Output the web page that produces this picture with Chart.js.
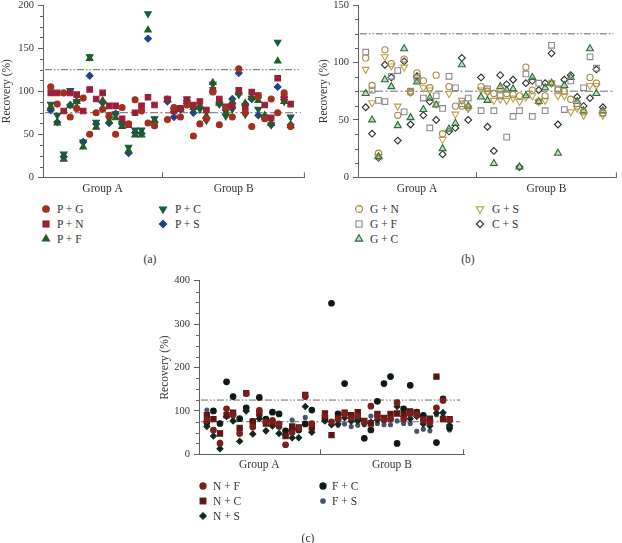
<!DOCTYPE html>
<html>
<head>
<meta charset="utf-8">
<script src="https://cdn.jsdelivr.net/npm/chart.js@4.4.1/dist/chart.umd.min.js"></script>
<style>
  body { margin: 0; background: #fff; width: 622px; height: 543px; position: relative; overflow: hidden;
         font-family: "Liberation Serif", serif; color: #333; }
  canvas { position: absolute; }
  .leg { position: absolute; font-size: 11.5px; line-height: 14px; white-space: nowrap; }
  .leg svg { position: absolute; top: 1px; }
  .cap { position: absolute; font-size: 11.5px; line-height: 14px; transform: translateX(-50%); }
</style>
</head>
<body>
<canvas id="chartA" width="310" height="200" style="left:0;top:0"></canvas>
<canvas id="chartB" width="312" height="200" style="left:310px;top:0"></canvas>
<canvas id="chartC" width="320" height="210" style="left:150px;top:270px"></canvas>
<div id="legends"></div>
<script>
// ---- shared axis data ----
const groupLabels = ['Group A', 'Group B'];
const xMin = -1.2, xMax = 39.2, xDivider = 17.2;
const groupCenters = [(xMin + xDivider) / 2, (xDivider + xMax) / 2];
const refLines = [75, 125];

// ---- (a) P + ... : 17 samples of group A, then 20 of group B ----
const pG = [105, 85, 98, 70, 80, 92, 50, 75, 79, 72, 50, 81, 62, 90, 77, 63, 60,
            67, 81, 70, 84, 48, 62, 68, 99, 61, 81, 70, 126, 75, 59, 94, 68, 91, 75, 98, 59];
const pN = [98, 98, 77, 98, 96, 77, 102, 91, 98, 83, 83, 68, 61, 75, 83, 93, 84,
            91, 77, 80, 90, 84, 88, 78, 101, 91, 82, 83, 101, 81, 99, 95, 84, 69, 115, 93, 85];
const pF = [82, 63, 21, 83, 88, 35, 138, 58, 89, 65, 69, 59, 31, 49, 49, 171, 66,
            90, 78, 79, 88, 81, 83, 71, 110, 86, 75, 88, 98, 86, 93, 89, 72, 63, 135, 88, 60];
const pC = [85, 72, 27, 101, 88, 41, 140, 64, 86, 68, 74, 62, 35, 55, 55, 190, 68,
            90, 78, 79, 91, 79, 79, 66, 108, 85, 71, 79, 96, 73, 92, 79, 70, 61, 157, 88, 70];
const pS = [78, 64, 24, 84, 88, 41, 118, 62, 87, 63, 74, 62, 28, 52, 51, 161, 64,
            88, 70, 79, 89, 75, 81, 69, 100, 85, 78, 91, 121, 85, 91, 72, 69, 61, 105, 93, 61];

// ---- (b) G + ... ----
const gN = [104, 80, 21, 111, 99, 54, 103, 74, 91, 84, 78, 89, 38, 79, 62, 62, 61,
            79, 75, 73, 77, 73, 72, 71, 96, 76, 66, 71, 82, 76, 75, 68, 62, 57, 87, 82, 56];
const gF = [109, 76, 67, 66, 88, 93, 57, 75, 87, 69, 43, 71, 60, 88, 78, 64, 69,
            58, 77, 58, 71, 35, 53, 58, 90, 53, 82, 58, 115, 77, 59, 84, 64, 78, 105, 95, 56];
const gC = [73, 50, 18, 85, 79, 45, 112, 52, 83, 59, 69, 63, 25, 42, 47, 98, 62,
            70, 67, 12, 79, 76, 77, 9, 71, 87, 66, 78, 82, 21, 80, 87, 66, 58, 112, 73, 58];
const gS = [94, 65, 18, 105, 97, 62, 96, 74, 85, 78, 76, 64, 33, 73, 55, 67, 60,
            76, 74, 67, 68, 67, 69, 66, 70, 71, 66, 67, 82, 71, 71, 57, 60, 54, 80, 80, 54];
const cS = [61, 38, 17, 98, 87, 32, 101, 46, 88, 54, 66, 50, 20, 40, 43, 104, 50,
            87, 44, 23, 89, 81, 85, 9, 82, 84, 76, 82, 108, 46, 85, 89, 70, 62, 69, 94, 61];

// ---- (c) N + ... / F + ... ----
const nF = [78, 56, 25, 105, 91, 48, 140, 63, 101, 74, 78, 70, 22, 50, 60, 133, 71,
            88, 75, 81, 93, 84, 88, 73, 111, 87, 79, 81, 119, 81, 93, 91, 78, 73, 107, 124, 79];
const nC = [90, 81, 48, 90, 96, 61, 141, 75, 94, 71, 73, 67, 42, 64, 62, 137, 62,
            94, 44, 84, 96, 90, 97, 77, 71, 93, 84, 93, 94, 93, 99, 96, 81, 82, 179, 81, 81];
const nS = [64, 42, 13, 87, 77, 30, 100, 47, 82, 54, 65, 48, 44, 38, 38, 110, 51,
            77, 68, 70, 84, 76, 77, 71, 74, 79, 82, 82, 110, 87, 82, 87, 70, 65, 95, 96, 67];
const fC = [73, 100, 71, 167, 133, 82, 107, 76, 131, 81, 97, 93, 54, 59, 56, 70, 102,
            82, 348, 93, 163, 88, 81, 37, 56, 122, 163, 179, 25, 105, 159, 97, 90, 79, 27, 128, 61];
const fS = [102, 83, 28, 88, 87, 56, 104, 74, 87, 82, 70, 62, 52, 79, 58, 85, 59,
            80, 70, 67, 70, 64, 67, 68, 88, 71, 68, 68, 77, 71, 71, 53, 58, 54, 91, 88, 56];

const axisColor = '#606060';
const textColor = '#333';
const serif = '"Liberation Serif", serif';

const seriesA = [
  { label: 'P + G', data: pG, shape: 'circle', fill: '#a3301f', stroke: '#a3301f', r: 3 },
  { label: 'P + N', data: pN, shape: 'rect', fill: '#9a1f3a', stroke: '#9a1f3a', r: 3.9 },
  { label: 'P + F', data: pF, shape: 'triUp', fill: '#245c26', stroke: '#245c26', r: 3.8 },
  { label: 'P + C', data: pC, shape: 'triDown', fill: '#175a40', stroke: '#175a40', r: 3.8 },
  { label: 'P + S', data: pS, shape: 'diamond', fill: '#21408a', stroke: '#21408a', r: 3.4 }
];
const seriesB = [
  { label: 'G + N', data: gN, shape: 'circle', fill: 'rgba(255,255,255,0)', stroke: '#a38a45', r: 3.1 },
  { label: 'G + F', data: gF, shape: 'rect', fill: 'rgba(255,255,255,0)', stroke: '#8a8a8a', r: 4 },
  { label: 'G + C', data: gC, shape: 'triUp', fill: 'rgba(140,190,140,0.55)', stroke: '#2f6b3c', r: 4 },
  { label: 'G + S', data: gS, shape: 'triDown', fill: 'rgba(255,255,255,0)', stroke: '#bba24e', r: 4 },
  { label: 'C + S', data: cS, shape: 'diamond', fill: 'rgba(255,255,255,0)', stroke: '#2a2a2a', r: 3.4 }
];
const seriesC = [
  { label: 'N + F', data: nF, shape: 'circle', fill: '#7b1e1e', stroke: '#7b1e1e', r: 2.8 },
  { label: 'N + C', data: nC, shape: 'rect', fill: '#5e1515', stroke: '#5e1515', r: 3.7 },
  { label: 'N + S', data: nS, shape: 'diamond', fill: '#0f2a1c', stroke: '#0f2a1c', r: 3 },
  { label: 'F + C', data: fC, shape: 'circle', fill: '#0e1a14', stroke: '#0e1a14', r: 2.8 },
  { label: 'F + S', data: fS, shape: 'circle', fill: '#45536e', stroke: '#45536e', r: 2 }
];

const pointStyles = { circle: 'circle', rect: 'rect', triUp: 'triangle', triDown: 'triangle', diamond: 'rectRot' };

function toPoints(vals) {
  // group B starts one slot after the divider
  return vals.map((v, k) => ({ x: k < 17 ? k : k + 1, y: v }));
}

// minor y ticks and the inward ticks on the x axis
const axisMarks = {
  id: 'axisMarks',
  afterDraw(chart, args, opts) {
    const { ctx, scales: { x, y } } = chart;
    ctx.save();
    ctx.strokeStyle = axisColor;
    ctx.lineWidth = 1;
    ctx.beginPath();
    for (let v = y.min; v <= y.max; v += opts.minor) {
      if (v % opts.major === 0) continue;
      const py = Math.round(y.getPixelForValue(v)) + 0.5;
      ctx.moveTo(x.left - 3, py);
      ctx.lineTo(x.left, py);
    }
    [xDivider, xMax].forEach(v => {
      const px = Math.min(Math.round(x.getPixelForValue(v)) + 0.5, x.right - 0.5);
      ctx.moveTo(px, y.bottom);
      ctx.lineTo(px, y.bottom - 5);
    });
    ctx.stroke();
    ctx.restore();
  }
};

function buildChart(id, series, cfg) {
  const datasets = series.map(s => ({
    label: s.label,
    data: toPoints(s.data),
    pointStyle: pointStyles[s.shape],
    rotation: s.shape === 'triDown' ? 180 : 0,
    pointRadius: s.r,
    pointBackgroundColor: s.fill,
    pointBorderColor: s.stroke,
    pointBorderWidth: 1.1,
    order: 1
  }));
  refLines.forEach((v, i) => datasets.push({
    type: 'line',
    data: [{ x: xMin + 0.3, y: v }, { x: xMax - 0.6, y: v }],
    borderColor: '#6a6a6a',
    borderWidth: 1,
    borderDash: i ? [7, 2, 1.5, 2, 1.5, 2] : [8, 2.5, 2, 2.5],
    pointRadius: 0,
    fill: false,
    order: 10
  }));

  return new Chart(document.getElementById(id), {
    type: 'scatter',
    data: { datasets },
    plugins: [axisMarks],
    options: {
      responsive: false,
      animation: false,
      devicePixelRatio: 1,
      layout: { padding: cfg.padding },
      plugins: {
        legend: { display: false },
        tooltip: { enabled: false },
        axisMarks: { minor: cfg.minor, major: cfg.major }
      },
      scales: {
        x: {
          type: 'linear',
          min: xMin,
          max: xMax,
          afterBuildTicks: s => { s.ticks = groupCenters.map(v => ({ value: v })); },
          afterFit: s => { s.height = cfg.xHeight; s.paddingLeft = 0; s.paddingRight = 0; },
          ticks: {
            callback: (v, i) => groupLabels[i],
            font: { family: serif, size: 11.5 },
            color: textColor,
            padding: cfg.xPad,
            maxRotation: 0
          },
          grid: { drawOnChartArea: false, drawTicks: false },
          border: { color: axisColor }
        },
        y: {
          min: 0,
          max: cfg.yMax,
          afterFit: s => { s.width = cfg.yWidth; s.paddingTop = 0; s.paddingBottom = 0; },
          ticks: {
            stepSize: cfg.major,
            font: { family: serif, size: 10.5 },
            color: textColor,
            padding: 4
          },
          grid: { drawOnChartArea: false, tickLength: 5, color: axisColor },
          border: { color: axisColor },
          title: {
            display: true,
            text: 'Recovery (%)',
            font: { family: serif, size: 11.5 },
            color: textColor,
            padding: 0
          }
        }
      }
    }
  });
}

buildChart('chartA', seriesA, { padding: { left: 0, top: 4, right: 5, bottom: 0 }, yWidth: 43, xHeight: 22.7, xPad: 5, yMax: 200, major: 50, minor: 12.5 });
buildChart('chartB', seriesB, { padding: { left: 7, top: 4, right: 1, bottom: 0 }, yWidth: 41, xHeight: 22.7, xPad: 5, yMax: 150, major: 50, minor: 12.5 });
buildChart('chartC', seriesC, { padding: { left: 8, top: 10.7, right: 6, bottom: 0 }, yWidth: 41, xHeight: 25.7, xPad: 4, yMax: 400, major: 100, minor: 25 });

// ---- legends and captions ----
function icon(s) {
  const c = 6, r = s.r + 0.3;
  const attr = `fill="${s.fill}" stroke="${s.stroke}" stroke-width="1.1"`;
  let shape;
  if (s.shape === 'circle') shape = `<circle cx="${c}" cy="${c}" r="${r}" ${attr}/>`;
  else if (s.shape === 'rect') { const h = r * 0.72; shape = `<rect x="${c - h}" y="${c - h}" width="${2 * h}" height="${2 * h}" ${attr}/>`; }
  else if (s.shape === 'triUp') shape = `<polygon points="${c},${c - r} ${c + r * 0.87},${c + r / 2} ${c - r * 0.87},${c + r / 2}" ${attr}/>`;
  else if (s.shape === 'triDown') shape = `<polygon points="${c},${c + r} ${c + r * 0.87},${c - r / 2} ${c - r * 0.87},${c - r / 2}" ${attr}/>`;
  else shape = `<polygon points="${c},${c - r} ${c + r},${c} ${c},${c + r} ${c - r},${c}" ${attr}/>`;
  return `<svg width="12" height="12">${shape}</svg>`;
}

const legendPlaces = [
  { series: seriesA, cols: [[46, 57], [163, 175]], rows: [209, 224, 239] },
  { series: seriesB, cols: [[359, 370], [480, 492]], rows: [209, 224, 239] },
  { series: seriesC, cols: [[203, 213], [323, 332]], rows: [486, 501, 516] }
];
const captions = [['(a)', 150, 259], ['(b)', 468, 259], ['(c)', 308, 538]];

let html = '';
legendPlaces.forEach(p => {
  p.series.forEach((s, i) => {
    const col = p.cols[i < 3 ? 0 : 1];
    const row = p.rows[i < 3 ? i : i - 3];
    html += `<div class="leg" style="left:${col[1]}px;top:${row - 7}px">` +
            `<span style="position:absolute;left:${col[0] - col[1] - 6}px;top:0">${icon(s)}</span>${s.label}</div>`;
  });
});
captions.forEach(([t, x, y]) => {
  html += `<div class="cap" style="left:${x}px;top:${y - 7}px">${t}</div>`;
});
document.getElementById('legends').innerHTML = html;
</script>
</body>
</html>
